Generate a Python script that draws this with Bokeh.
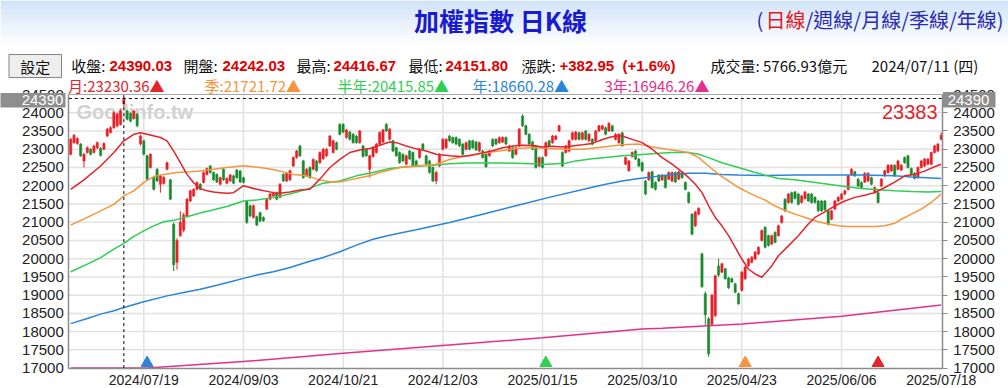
import numpy as np
from bokeh.plotting import figure
from bokeh.models import Range1d, FixedTicker, LinearAxis, Label
from bokeh.core.properties import value
from bokeh.embed import file_html
from bokeh.resources import INLINE

# ---------------- data ----------------
opens = [22860,23180,23160,23140,22680,22910,23000,22910,23040,23020,
23000,23360,23460,23590,23640,23680,24242.03,24050,23980,23840,
23960,23140,23230,22820,22500,22220,22450,22040,22060,22450,
22160,20940,19900,20630,20780,21170,21580,21720,21900,22040,
22090,22310,22540,22360,22310,22040,22450,22070,22130,22270,
22430,22400,22220,21580,21450,21130,21150,21260,21130,21360,
21630,21720,21810,21680,22310,22130,22160,22540,22770,23090,
22680,22270,22500,22450,22680,22630,22740,22820,23090,22910,
23180,23680,23680,23320,23470,23410,23360,23180,23090,23000,
22450,22800,22910,23140,23200,23680,23270,23230,23040,22910,
22860,22590,22950,22910,22680,22770,23140,22820,22680,22500,
22130,22540,23000,23040,23360,23320,23320,23270,23140,23000,
23230,23230,23200,22950,22950,22860,22820,23270,23270,23180,
23200,23320,22950,23040,22860,23090,23910,23640,23410,23200,
23090,22540,22770,22820,23230,23180,23270,23500,22910,22910,
22950,23270,23270,23450,23270,23500,23230,23270,23230,23500,
23550,23590,23500,23640,23270,23180,23450,22590,22410,22800,
22950,22730,22630,22130,22160,22380,22090,22290,22160,22270,
22180,22130,22360,22180,22360,22090,21810,21220,20900,21220,
20130,19040,18350,18200,18440,19800,19630,19720,19470,19450,
19310,19040,19130,19450,19810,19900,19990,20130,20500,20860,
20630,20400,20720,20630,20990,21630,21540,21810,21830,21770,
21540,21650,21770,21770,21680,21580,21580,21580,21310,21080,
21360,21580,21630,21770,21900,22310,22380,22180,22090,22100,
22130,22220,21810,21810,21990,22270,22360,22410,22560,22450,
22430,22770,22820,22470,22340,22220,22500,22540,22590,22590,
22910,22950,23270]

closes = [23270,23380,23290,22820,22860,23040,22860,23090,23180,22830,
23160,23550,23590,24000,23960,24050,24390.03,23820,23770,24050,
23640,23360,22860,22180,22860,21900,22130,22270,22230,22630,
21630,19830,20500,21000,21200,21630,21860,21900,22090,21900,
22360,22470,22360,22160,22100,22220,22160,22200,22290,22070,
22220,22100,22090,21000,21170,21450,20920,21030,21040,21630,
21770,21810,21630,22040,22130,22340,22410,22770,22950,22820,
22220,22450,22220,22720,22410,22910,23000,23000,23360,23230,
23000,23410,23470,23530,23270,23180,23180,23500,22800,22820,
22820,23040,23140,23460,23530,23500,23550,22950,22820,22630,
22680,22820,22730,22540,22540,23000,23000,22590,22360,22130,
22360,22860,23270,23270,23230,23180,23140,23090,22860,23180,
23000,23040,22980,23180,22770,22520,22950,23090,23140,23320,
23320,23140,23090,22770,23040,23550,23640,23410,23140,23000,
22500,22770,22500,23180,23090,23360,23360,23640,22540,23090,
23230,23450,23470,23270,23450,23270,23410,23140,23500,23640,
23640,23410,23710,23500,23410,23410,23090,22770,22680,22910,
22730,22540,22410,21770,22360,21950,21900,22130,22290,21950,
22360,22360,22100,22380,22220,21900,21540,20670,21280,21380,
19230,18460,17390,19000,19530,19550,19860,19450,19200,19360,
19080,18760,19630,19770,19990,20040,20180,20310,20770,20310,
20360,20630,20450,20900,21170,21310,21770,21540,21650,21490,
21720,21830,21580,21540,21540,21310,21310,21340,20940,21310,
21580,21680,21770,21860,22270,22450,22270,21990,21950,22340,
22340,22040,21950,21540,22180,22410,22560,22560,22270,22680,
22560,22630,22500,22310,22200,22500,22680,22730,22730,22910,
23090,23140,23383]

highs = [23310,23420,23330,23170,22900,23080,23030,23120,23210,23060,
23190,23580,23630,24040,24000,24100,24416.67,24080,24010,24080,
23990,23400,23260,22850,22890,22260,22480,22300,22260,22660,
22190,20990,20560,21300,21260,21660,21890,21930,22120,22070,
22390,22500,22570,22390,22340,22250,22480,22230,22320,22300,
22460,22430,22250,21610,21480,21480,21180,21290,21160,21660,
21800,21840,21840,22070,22340,22370,22440,22800,22980,23120,
22710,22480,22530,22750,22710,22940,23030,23030,23390,23260,
23210,23710,23710,23560,23500,23440,23390,23530,23120,23030,
22850,23070,23170,23490,23560,23720,23580,23260,23070,22940,
22890,22850,22980,22940,22710,23030,23170,22850,22710,22530,
22410,22890,23300,23300,23390,23350,23350,23300,23170,23210,
23260,23260,23230,23210,22980,22890,22980,23300,23300,23350,
23350,23350,23120,23070,23070,23580,23960,23670,23440,23230,
23120,22800,22800,23210,23260,23390,23390,23670,22940,23120,
23260,23480,23500,23480,23480,23530,23440,23300,23530,23670,
23670,23620,23740,23670,23440,23440,23480,22800,22710,22940,
22980,22760,22660,22160,22390,22410,22120,22320,22320,22300,
22390,22390,22390,22410,22390,22120,21840,21250,21310,21410,
20160,19100,18400,19030,19560,20000,19890,19750,19500,19480,
19340,19070,19660,19800,20020,20070,20210,20340,20800,20890,
20660,20660,20750,20930,21200,21660,21800,21840,21860,21800,
21750,21860,21800,21800,21710,21610,21610,21610,21340,21340,
21610,21710,21800,21890,22300,22480,22410,22210,22120,22370,
22370,22250,21980,21840,22210,22440,22590,22590,22590,22710,
22590,22800,22850,22500,22370,22530,22710,22760,22760,22940,
23120,23170,23460]

lows = [22830,23150,23120,22790,22500,22880,22830,22880,23000,22800,
22970,23330,23430,23560,23600,23650,24151.80,23790,23740,23810,
23600,23100,22830,22150,22470,21870,22100,21810,22030,22420,
21600,19660,19700,20600,20720,21140,21550,21690,21870,21870,
22060,22280,22330,22130,22070,22010,22130,22040,22100,22040,
22190,22070,22060,20950,21140,21100,20890,21000,21010,21330,
21600,21690,21600,21650,22100,22100,22130,22510,22740,22790,
22190,22240,22190,22420,22380,22600,22710,22790,23060,22880,
22970,23380,23440,23290,23240,23150,23150,23150,22770,22790,
22220,22770,22880,23110,23170,23470,23240,22920,22790,22600,
22650,22560,22700,22510,22510,22740,22970,22560,22330,22100,
22040,22510,22970,23010,23200,23150,23110,23060,22830,22970,
22970,23010,22950,22920,22740,22490,22790,23060,23110,23150,
23170,23110,22920,22740,22830,23060,23610,23380,23110,22970,
22470,22510,22470,22790,23060,23150,23240,23470,22510,22880,
22920,23240,23240,23240,23240,23240,23200,23110,23200,23470,
23520,23380,23470,23470,23240,23150,23060,22560,22380,22770,
22700,22510,22380,21740,22130,21920,21870,22100,22130,21920,
22150,22100,22070,22150,22190,21870,21510,20640,20870,21190,
19200,18170,17310,18170,18400,19500,19600,19420,19170,19330,
19050,18740,19100,19420,19780,19870,19960,20100,20470,20280,
20330,20370,20420,20600,20960,21280,21510,21510,21620,21460,
21510,21620,21550,21510,21510,21280,21280,21310,20910,21050,
21330,21550,21600,21740,21870,22280,22240,21960,21920,22070,
22100,22010,21780,21510,21960,22240,22330,22380,22240,22420,
22400,22600,22470,22280,22170,22190,22470,22510,22560,22560,
22880,22920,23240]

# moving averages, read at sample points (index, value)
ma20_x = [0,4,9,13,16,19,21,23,27,29,31,33,35,37,39,41,43,45,47,49,52,56,61,63,66,69,72,75,78,81,
          84,87,90,93,96,98,101,104,107,110,114,117,120,124,127,130,133,136,139,142,145,148,151,154,157,159,162,164,166,169,
          172,175,178,181,184,186,188,190,192,194,196,198,200,202,204,206,208,211,213,216,219,222,224,227,230,233,236,239,242,245,
          248,251,254,257,260,262]
ma20_y = [21900,22160,22540,22910,23230,23410,23450,23410,23320,23230,22950,22630,22310,22080,21920,21860,21830,21810,21790,21810,
          22000,21900,21810,21790,21830,21880,21900,22180,22500,22720,22910,22980,23020,23110,23200,23180,23090,23010,22950,22860,
          22820,22800,22820,22900,22960,23040,23090,23110,23100,23060,23080,23060,23090,23120,23160,23230,23320,23360,23360,23270,
          23180,23000,22770,22590,22380,22220,22040,21810,21450,21130,20900,20630,20310,19990,19710,19580,19490,19800,20080,20350,
          20630,20950,21130,21280,21450,21580,21680,21740,21810,21950,22100,22270,22310,22400,22520,22590]
ma60_x = [0,5,9,13,16,19,22,25,28,32,36,39,43,47,52,55,59,63,67,71,75,78,81,84,87,90,93,96,99,104,
          110,114,119,124,129,134,139,144,149,154,161,166,171,176,181,186,189,192,195,198,201,204,207,209,211,214,218,222,225,228,
          231,234,238,242,245,248,250,253,256,259,262]
ma60_y = [20920,21130,21310,21490,21720,21860,22090,22250,22310,22360,22380,22400,22450,22500,22550,22520,22470,22400,22310,22270,
          22160,22110,22100,22160,22220,22270,22360,22430,22500,22540,22590,22720,22820,22890,22950,23020,23045,23020,23000,23000,
          23070,23120,23140,23050,22980,22910,22770,22540,22310,22130,21950,21810,21680,21610,21490,21360,21220,21100,21010,20950,
          20900,20880,20880,20880,20900,20970,21080,21220,21360,21540,21770]
ma120_x = [0,5,9,13,16,19,22,25,28,31,35,39,43,47,52,56,61,66,71,76,81,86,91,96,101,104,109,114,119,124,
           129,134,139,142,146,149,152,157,161,166,171,176,181,186,189,192,196,201,206,209,213,218,223,228,233,238,243,248,253,258,262]
ma120_y = [19640,19850,20030,20260,20420,20610,20760,20900,21010,21050,21150,21250,21340,21430,21580,21610,21680,21770,21900,22070,
           22130,22270,22360,22470,22520,22530,22560,22600,22620,22625,22625,22615,22600,22580,22600,22615,22680,22740,22770,22820,
           22850,22880,22910,22910,22860,22770,22630,22500,22360,22290,22200,22160,22100,22040,21980,21920,21890,21860,21840,21830,21840]
ma240_x = [0,5,9,13,16,22,29,34,39,44,49,52,56,61,66,71,76,81,86,91,96,101,104,114,124,134,144,157,161,166,
           171,176,181,186,191,196,201,209,218,228,238,248,253,262]
ma240_y = [18220,18360,18480,18570,18660,18820,18980,19070,19160,19270,19390,19460,19550,19640,19760,19900,20030,20190,20370,20530,
           20640,20740,20790,20990,21220,21450,21680,21960,22040,22130,22200,22250,22310,22340,22340,22310,22290,22280,22290,22290,
           22290,22270,22240,22200]
ma720_x = [0,16,23,52,82,112,142,172,178,202,232,262]
ma720_y = [16900,16946.26,17000,17180,17410,17620,17830,18070,18090,18210,18420,18730]

tick_idx = [22, 52, 82, 112, 142, 172, 202, 232, 262]
tick_labels = ["2024/07/19", "2024/09/03", "2024/10/21", "2024/12/03", "2025/01/15",
               "2025/03/10", "2025/04/23", "2025/06/06", "2025/07/18"]

sel_idx = 16
sel_date = "2024/07/11 (四)"
sel_open, sel_high, sel_low, sel_close = 24242.03, 24416.67, 24151.80, 24390.03
sel_change, sel_pct = 382.95, 1.6
sel_volume = 5766.93

ma_names = ["月", "季", "半年", "年", "3年"]
ma_windows = [20, 60, 120, 240, 720]
ma_sel_values = [23230.36, 21721.72, 20415.85, 18660.28, 16946.26]
ma_colors = ["#e3242b", "#f5953d", "#2fcf52", "#2a84d8", "#e3308e"]

# ---------------- layout constants (canvas pixels) ----------------
W, H = 1008, 388
CL, CR, CT, CB = 68.3, 941.7, 94.0, 367.6      # chart area
N = len(closes)
X0, X1 = -0.57, 262.3
Y0, Y1 = 17000, 24500
px_x = (CR - CL) / (X1 - X0)
px_y = (CB - CT) / (Y1 - Y0)


def dx(fx):
    return X0 + (fx - CL) / px_x


def dy(fy):
    return Y1 + (CT - fy) / px_y


RED = "#ea1f26"
GREEN = "#1b8a2e"
GRID = "#e2e2e2"
AX = "#8c8c8c"
CJK = "Noto Sans CJK TC"
LAT = "Liberation Sans"

p = figure(width=W, height=H, x_range=Range1d(dx(0), dx(W)), y_range=Range1d(dy(H), dy(0)),
           x_axis_type=None, y_axis_type=None, output_backend="svg", toolbar_location=None,
           min_border=0)
p.outline_line_color = None
p.background_fill_color = "white"
p.border_fill_color = "white"

# ---------------- header background & button ----------------
c0 = np.array([194, 218, 246])
band = np.arange(0, 44)
band_cols = []
for k in band:
    t = min(1.0, k / 44.0)
    cc = (c0 + (255 - c0) * t).astype(int)
    band_cols.append("#%02x%02x%02x" % tuple(cc))
p.quad(left=dx(0), right=dx(W), top=dy(band), bottom=dy(band + 1.05), fill_color=band_cols, line_color=None)

p.quad(left=[dx(8.5)], right=[dx(61)], top=[dy(54)], bottom=[dy(77)], fill_color="#eeeeee",
       line_color="#858585", line_width=1)


def lab(fx, fy, s, color, size, font, bold=False, align="left"):
    p.add_layout(Label(x=dx(fx), y=dy(fy), text=s, text_color=color, text_font=font,
                       text_font_size=size, text_font_style="bold" if bold else "normal",
                       text_align=align, text_baseline="middle"))


# ---------------- grid & frame lines ----------------
gy = [v for v in range(Y0, Y1 + 1, 500) if Y0 < v < Y1]
p.segment(x0=X0, x1=X1, y0=gy, y1=gy, line_color=GRID, line_width=1.5)
p.segment(x0=tick_idx[:-1], x1=tick_idx[:-1], y0=Y0, y1=Y1, line_color=GRID, line_width=1.5)
p.segment(x0=[X0], x1=[X1], y0=[Y1], y1=[Y1], line_color="#a8a8a8", line_width=1)

# ---------------- axes ----------------
yticks = list(range(Y0, Y1 + 1, 500))
common = dict(axis_line_color=AX, axis_line_width=1.5, major_tick_line_color=AX,
              minor_tick_line_color=None, major_label_text_font=LAT,
              major_label_text_color="#222222")
lax = LinearAxis(ticker=FixedTicker(ticks=yticks), fixed_location=X0, bounds=(Y0, Y1),
                 major_tick_out=0, major_tick_in=0, major_label_standoff=5,
                 major_label_text_font_size="15px", **common)
rax = LinearAxis(ticker=FixedTicker(ticks=yticks), fixed_location=X1, bounds=(Y0, Y1),
                 major_tick_out=5, major_tick_in=0, major_label_standoff=6,
                 major_label_text_font_size="15px", **common)
bax = LinearAxis(ticker=FixedTicker(ticks=tick_idx), fixed_location=Y0, bounds=(X0, X1),
                 major_tick_out=0, major_tick_in=0, major_label_standoff=4,
                 major_label_text_font_size="14px",
                 major_label_overrides={i: s for i, s in zip(tick_idx, tick_labels)}, **common)
p.add_layout(lax, "left")
p.add_layout(rax, "right")
p.add_layout(bax, "below")

# ---------------- chart content ----------------
p.text(x=[dx(134.3)], y=[dy(111)], text=["Goodinfo.tw"], text_color="#d2d2d2",
       text_font=value(LAT), text_font_style="bold", text_font_size=value("20px"),
       text_align="center", text_baseline="middle")

x = np.arange(N)
o = np.array(opens, dtype=float)
c = np.array(closes, dtype=float)
hi = np.array(highs, dtype=float)
lo = np.array(lows, dtype=float)
col = np.where(c >= o, RED, GREEN).tolist()
p.segment(x0=x, y0=lo, x1=x, y1=hi, line_color=col, line_width=1)
p.vbar(x=x, width=0.68, bottom=np.minimum(o, c), top=np.maximum(o, c),
       fill_color=col, line_color=col, line_width=0.5)

p.line(ma720_x, np.clip(np.array(ma720_y), Y0, None), line_color=ma_colors[4], line_width=1.5)
p.line(ma240_x, ma240_y, line_color=ma_colors[3], line_width=1.5)
p.line(ma120_x, ma120_y, line_color=ma_colors[2], line_width=1.5)
p.line(ma60_x, ma60_y, line_color=ma_colors[1], line_width=1.5)
p.line(ma20_x, ma20_y, line_color=ma_colors[0], line_width=1.5)

tri_x = [N - w for w in ma_windows[:4]]
tri_y = [dy(362.5)] * 4
p.scatter(tri_x, tri_y, marker="triangle", size=12, fill_color=ma_colors[:4], line_color=ma_colors[:4])

# crosshair on the selected day
p.segment(x0=[X0], x1=[X1], y0=[sel_close], y1=[sel_close], line_color="#000000", line_dash="3 3", line_width=1)
p.segment(x0=[sel_idx], x1=[sel_idx], y0=[Y0], y1=[Y1], line_color="#000000", line_dash="3 3", line_width=1)

p.text(x=[dx(937)], y=[dy(111)], text=[f"{closes[-1]:.0f}"], text_color="#e3242b",
       text_font=value(LAT), text_font_size=value("20px"), text_align="right", text_baseline="middle")

# grey value boxes over both axes (drawn above the axis labels)
p.quad(left=[dx(0), dx(942.5)], right=[dx(65), dx(995)], top=[dy(92.5), dy(91.5)],
       bottom=[dy(107), dy(107)], fill_color="#8e8e8e", line_color=None, level="overlay")
p.text(x=[dx(42), dx(968)], y=[dy(99.8), dy(99.3)], text=[f"{sel_close:.0f}"] * 2,
       text_color="white", text_font=value(LAT), text_font_size=value("15px"),
       text_align="center", text_baseline="middle", level="overlay")

# ---------------- header texts ----------------
lab(500, 19, "加權指數 日K線", "#1a1ad0", "25px", CJK, bold=True, align="center")
lab(756, 19, "(", "#2b2bb0", "20px", CJK)
lab(765, 19, "日線", "#e3181f", "20px", CJK)
lab(805, 19, "/週線/月線/季線/年線)", "#2b2bb0", "20px", CJK)

lab(34.75, 65.5, "設定", "#111111", "15px", CJK, align="center")

row2_y = 65
lab_x = [70.7, 183, 296, 408, 521]
lab_t = ["收盤:", "開盤:", "最高:", "最低:", "漲跌:"]
val_x = [109, 222, 333, 445, 559]
val_t = [f"{sel_close:.2f}", f"{sel_open:.2f}", f"{sel_high:.2f}", f"{sel_low:.2f}",
         f"+{sel_change:.2f}"]
for xx, tt in zip(lab_x, lab_t):
    lab(xx, row2_y, tt, "#111111", "15px", CJK)
for xx, tt in zip(val_x, val_t):
    lab(xx, row2_y, tt, "#e00000", "15px", LAT, bold=True)
lab(622, row2_y, f"(+{sel_pct:.1f}%)", "#e00000", "15px", LAT, bold=True)
lab(710, row2_y, f"成交量: {sel_volume:.2f}億元", "#111111", "15px", CJK)
lab(871, row2_y, sel_date, "#111111", "15px", CJK)

row3_x = [67.5, 204, 337, 472, 604]
for xx, nm, vv, cc in zip(row3_x, ma_names, ma_sel_values, ma_colors):
    lab(xx, 85, f"{nm}:{vv:.2f}▲", cc, "15px", CJK)

open("out.html", "w").write(file_html(p, INLINE))
